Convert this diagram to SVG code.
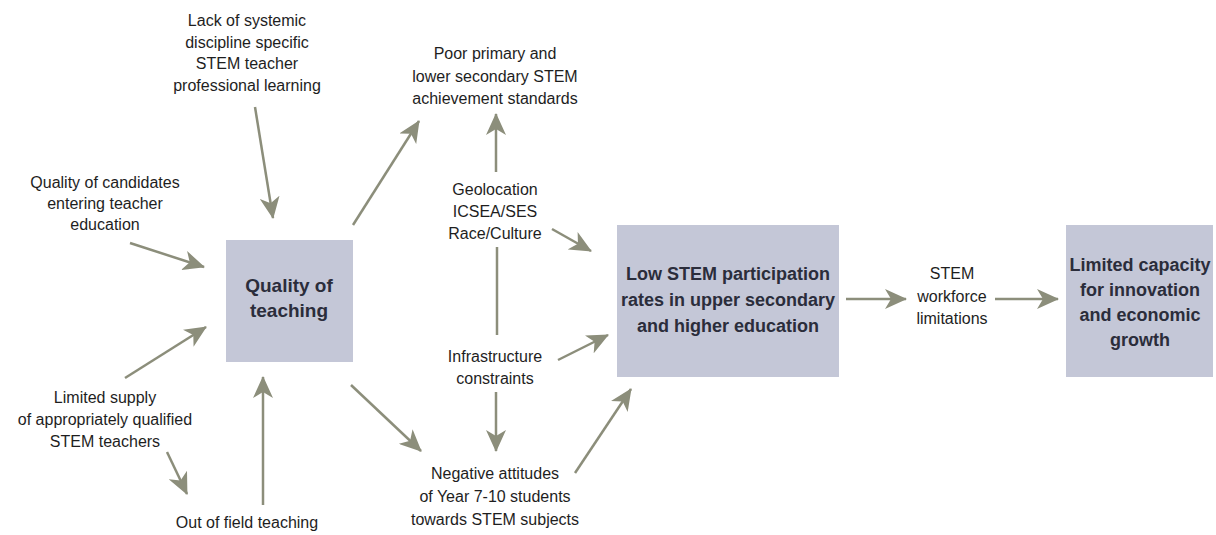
<svg xmlns="http://www.w3.org/2000/svg" width="1216" height="535" viewBox="0 0 1216 535">
<defs>
<style>
.box{fill:#c4c7d7;}
.bt{font-family:"Liberation Sans",Arial,sans-serif;font-size:18px;font-weight:bold;fill:#2b2d3b;text-anchor:middle;}
.lt{font-family:"Liberation Sans",Arial,sans-serif;font-size:16px;fill:#1e1e1e;text-anchor:middle;}
.c{stroke:#8c8e7b;stroke-width:2.5;fill:none;}
.a{marker-end:url(#ah);}
</style>
<marker id="ah" markerUnits="userSpaceOnUse" markerWidth="22" markerHeight="20" refX="21" refY="10" orient="auto" viewBox="0 0 22 20">
<path d="M0,0 L22,10 L0,20 L6,10 Z" fill="#8c8e7b"/>
</marker>
</defs>
<rect width="1216" height="535" fill="#ffffff"/>
<g id="connectors">
<line class="c a" x1="255" y1="107" x2="273" y2="218"/>
<line class="c a" x1="130" y1="243" x2="204" y2="267"/>
<line class="c a" x1="125" y1="378" x2="206" y2="327"/>
<line class="c a" x1="167" y1="452" x2="187" y2="494"/>
<line class="c a" x1="263" y1="505" x2="263" y2="377"/>
<line class="c a" x1="353" y1="225" x2="419" y2="121"/>
<line class="c a" x1="351" y1="385" x2="421" y2="451"/>
<line class="c a" x1="496" y1="172" x2="496" y2="114"/>
<line class="c a" x1="552" y1="229" x2="591" y2="251"/>
<line class="c" x1="497" y1="247" x2="497" y2="335"/>
<line class="c a" x1="558" y1="360" x2="608" y2="335"/>
<line class="c a" x1="496" y1="392" x2="496" y2="451"/>
<line class="c a" x1="575" y1="473" x2="631" y2="389"/>
<line class="c a" x1="846" y1="299" x2="906" y2="299"/>
<line class="c a" x1="995" y1="299" x2="1058" y2="299"/>
</g>
<g id="quality-teaching">
<rect class="box" x="226" y="240" width="127" height="122"/>
<text class="bt" x="289" y="292" style="font-size:19px">Quality of</text>
<text class="bt" x="289" y="317" style="font-size:19px">teaching</text>
</g>
<g id="low-stem">
<rect class="box" x="617" y="225" width="222" height="152"/>
<text class="bt" x="728" y="280">Low STEM participation</text>
<text class="bt" x="728" y="306">rates in upper secondary</text>
<text class="bt" x="728" y="332">and higher education</text>
</g>
<g id="limited-capacity">
<rect class="box" x="1066" y="225" width="147" height="152"/>
<text class="bt" x="1140" y="271">Limited capacity</text>
<text class="bt" x="1140" y="296">for innovation</text>
<text class="bt" x="1140" y="321">and economic</text>
<text class="bt" x="1140" y="346">growth</text>
</g>
<g id="lack-pl">
<text class="lt" x="247" y="26">Lack of systemic</text>
<text class="lt" x="247" y="48">discipline specific</text>
<text class="lt" x="247" y="69">STEM teacher</text>
<text class="lt" x="247" y="91">professional learning</text>
</g>
<g id="quality-candidates">
<text class="lt" x="105" y="188">Quality of candidates</text>
<text class="lt" x="105" y="209">entering teacher</text>
<text class="lt" x="105" y="230">education</text>
</g>
<g id="limited-supply">
<text class="lt" x="105" y="403">Limited supply</text>
<text class="lt" x="105" y="425">of appropriately qualified</text>
<text class="lt" x="105" y="447">STEM teachers</text>
</g>
<g id="out-of-field">
<text class="lt" x="247" y="528">Out of field teaching</text>
</g>
<g id="poor-primary">
<text class="lt" x="495" y="59">Poor primary and</text>
<text class="lt" x="495" y="82">lower secondary STEM</text>
<text class="lt" x="495" y="104">achievement standards</text>
</g>
<g id="geolocation">
<text class="lt" x="495" y="195">Geolocation</text>
<text class="lt" x="495" y="217">ICSEA/SES</text>
<text class="lt" x="495" y="239">Race/Culture</text>
</g>
<g id="infrastructure">
<text class="lt" x="495" y="362">Infrastructure</text>
<text class="lt" x="495" y="384">constraints</text>
</g>
<g id="negative-attitudes">
<text class="lt" x="495" y="479">Negative attitudes</text>
<text class="lt" x="495" y="502">of Year 7-10 students</text>
<text class="lt" x="495" y="525">towards STEM subjects</text>
</g>
<g id="workforce">
<text class="lt" x="952" y="279">STEM</text>
<text class="lt" x="952" y="302">workforce</text>
<text class="lt" x="952" y="324">limitations</text>
</g>
</svg>
